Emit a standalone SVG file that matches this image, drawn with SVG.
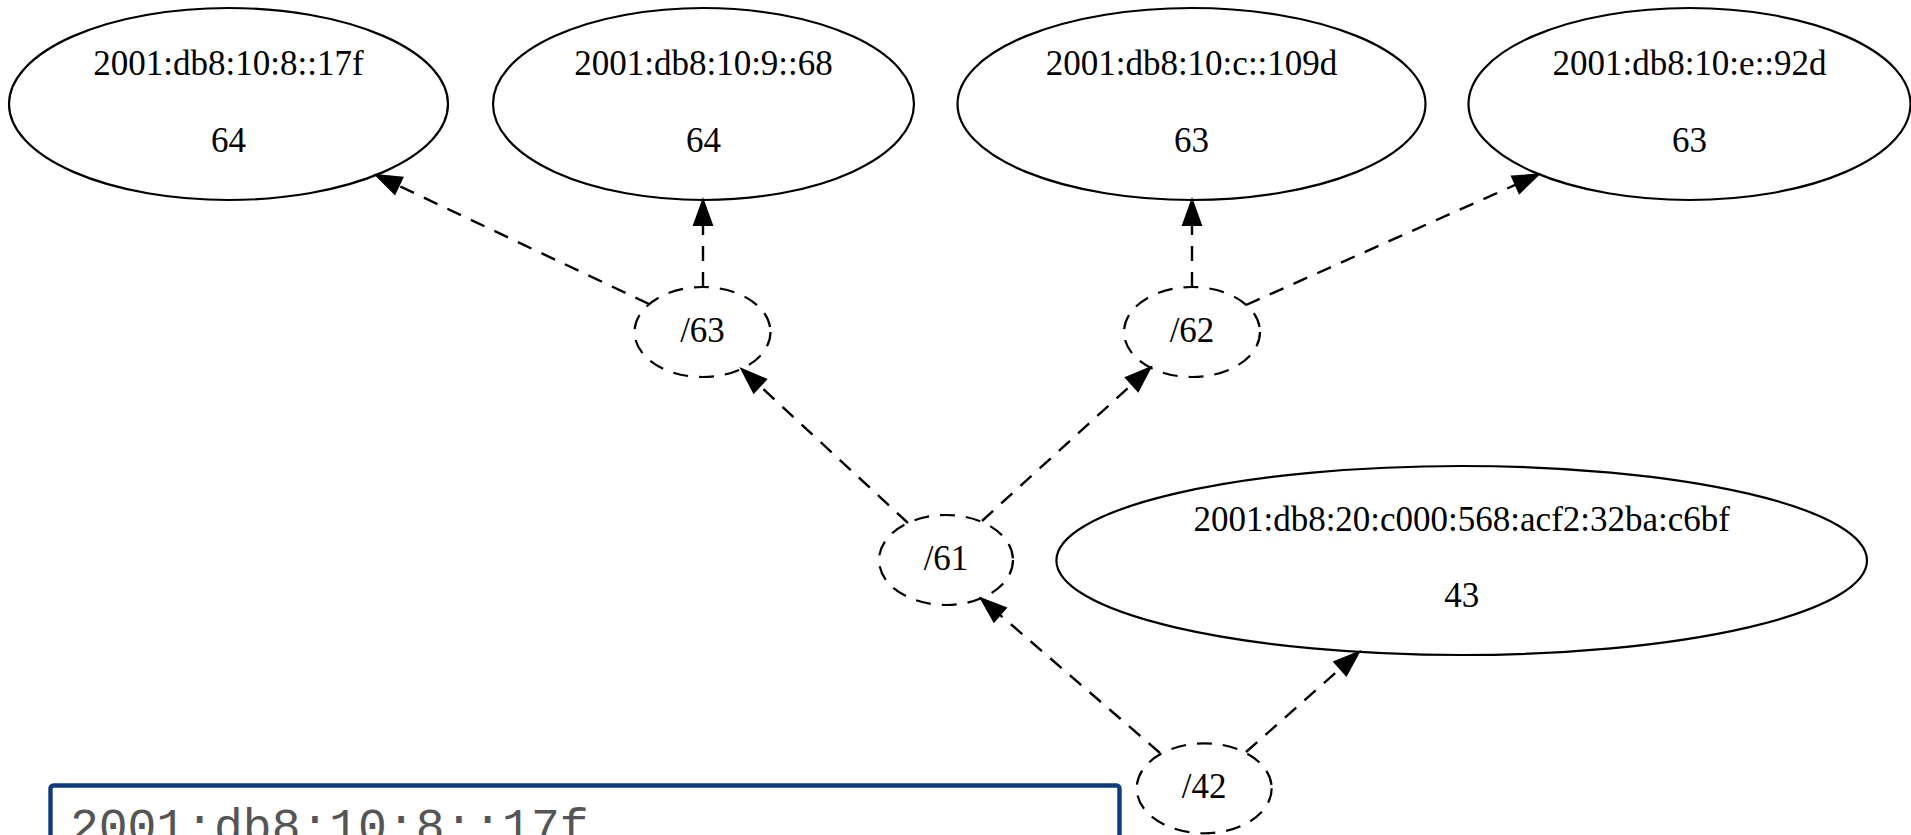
<svg xmlns="http://www.w3.org/2000/svg" width="1911" height="835" viewBox="0 0 1911 835">
<style>
  .node ellipse { fill: none; stroke: #000; stroke-width: 2.2; }
  .prefix ellipse { stroke-dasharray: 15 11; }
  .lbl { font-family: "Liberation Serif", "Times New Roman", serif; font-size: 35px; fill: #000; text-anchor: middle; }
  .edge { fill: none; stroke: #000; stroke-width: 2.4; stroke-dasharray: 15 11; }
  .box { fill: #fff; stroke: #0d3b7d; stroke-width: 4.4; }
  .mono { font-family: "Liberation Mono", "DejaVu Sans Mono", monospace; font-size: 48px; fill: #555; }
</style>
<defs>
  <marker id="arr" markerUnits="userSpaceOnUse" markerWidth="30" markerHeight="24" viewBox="-2 -12 30 24" refX="0" refY="0" orient="auto">
    <path d="M0,-9 L25,0 L0,9 z" fill="#000" stroke="#000" stroke-width="2"/>
  </marker>
</defs>
<rect width="1911" height="835" fill="#fff"/>

<g id="edges">
  <line class="edge" x1="649" y1="304" x2="398.6" y2="185.7" marker-end="url(#arr)"/>
  <line class="edge" x1="703" y1="287" x2="703" y2="225" marker-end="url(#arr)"/>
  <line class="edge" x1="1192" y1="287" x2="1192" y2="225" marker-end="url(#arr)"/>
  <line class="edge" x1="1246" y1="305" x2="1515.7" y2="184.7" marker-end="url(#arr)"/>
  <line class="edge" x1="908" y1="523" x2="759.9" y2="386" marker-end="url(#arr)"/>
  <line class="edge" x1="982" y1="521" x2="1132" y2="384.3" marker-end="url(#arr)"/>
  <line class="edge" x1="1160" y1="753" x2="999.9" y2="614.8" marker-end="url(#arr)"/>
  <line class="edge" x1="1246" y1="752" x2="1340.3" y2="668.6" marker-end="url(#arr)"/>
</g>

<g id="n_17f" class="node">
  <ellipse cx="228.5" cy="104" rx="219.5" ry="96"/>
  <text class="lbl" x="228.5" y="75">2001:db8:10:8::17f</text>
  <text class="lbl" x="228.5" y="151.5">64</text>
</g>
<g id="n_68" class="node">
  <ellipse cx="703.5" cy="104" rx="210.5" ry="96"/>
  <text class="lbl" x="703.5" y="75">2001:db8:10:9::68</text>
  <text class="lbl" x="703.5" y="151.5">64</text>
</g>
<g id="n_109d" class="node">
  <ellipse cx="1191.5" cy="104" rx="234" ry="96"/>
  <text class="lbl" x="1191.5" y="75">2001:db8:10:c::109d</text>
  <text class="lbl" x="1191.5" y="151.5">63</text>
</g>
<g id="n_92d" class="node">
  <ellipse cx="1689.5" cy="104" rx="221" ry="96"/>
  <text class="lbl" x="1689.5" y="75">2001:db8:10:e::92d</text>
  <text class="lbl" x="1689.5" y="151.5">63</text>
</g>
<g id="n_c6bf" class="node">
  <ellipse cx="1461.7" cy="560.5" rx="405.3" ry="94.5"/>
  <text class="lbl" x="1461.7" y="530.5">2001:db8:20:c000:568:acf2:32ba:c6bf</text>
  <text class="lbl" x="1461.7" y="607">43</text>
</g>

<g id="p63" class="node prefix">
  <ellipse cx="702.5" cy="332" rx="68" ry="45"/>
  <text class="lbl" x="702.5" y="341.5">/63</text>
</g>
<g id="p62" class="node prefix">
  <ellipse cx="1192" cy="332" rx="68" ry="45"/>
  <text class="lbl" x="1192" y="341.5">/62</text>
</g>
<g id="p61" class="node prefix">
  <ellipse cx="946" cy="560" rx="67" ry="45"/>
  <text class="lbl" x="946" y="569.5">/61</text>
</g>
<g id="p42" class="node prefix">
  <ellipse cx="1204.2" cy="788.3" rx="67.5" ry="45"/>
  <text class="lbl" x="1204.2" y="797.5">/42</text>
</g>

<g id="detail">
  <rect class="box" x="50.5" y="785.5" width="1069" height="120" rx="3"/>
  <text class="mono" x="70" y="842">2001:db8:10:8::17f</text>
</g>
</svg>
